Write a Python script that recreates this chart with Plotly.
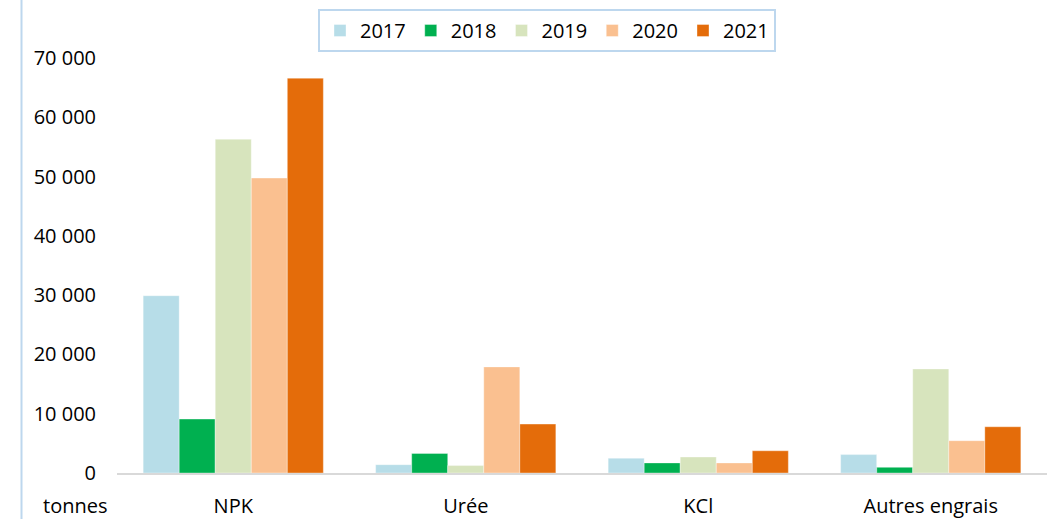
import plotly.graph_objects as go

categories = ["NPK", "Urée", "KCl", "Autres engrais"]
years = ["2017", "2018", "2019", "2020", "2021"]
v2017 = [29900, 1400, 2500, 3100]
v2018 = [9100, 3300, 1700, 950]
v2019 = [56300, 1250, 2700, 17550]
v2020 = [49750, 17900, 1700, 5450]
v2021 = [66600, 8250, 3750, 7800]
series = [v2017, v2018, v2019, v2020, v2021]
colors = ["#B7DDE8", "#00B050", "#D7E4BD", "#FAC090", "#E46C0A"]
tick_vals = [0, 10000, 20000, 30000, 40000, 50000, 60000, 70000]
tick_text = ["0", "10 000", "20 000", "30 000", "40 000", "50 000", "60 000", "70 000"]

W, H = 1061, 519
L, R, T, B = 117, 14, 58, 46
FS = 20

fig = go.Figure()
for y, vals, c in zip(years, series, colors):
    fig.add_trace(go.Bar(name=y, x=categories, y=vals,
                         marker=dict(color=c, line=dict(color="rgba(255,255,255,0.6)", width=0.6))))

pw = W - L - R
ph = H - T - B
fig.update_layout(
    width=W, height=H,
    margin=dict(l=L, r=R, t=T, b=B, autoexpand=False),
    paper_bgcolor="white", plot_bgcolor="white",
    barmode="group", bargap=0.225, bargroupgap=0,
    font=dict(family="Open Sans, Lato, sans-serif", size=FS, color="#000000"),
    legend=dict(orientation="h", x=(318 - L) / pw, xanchor="left", y=1 + (58 - 9) / ph, yanchor="top",
                bordercolor="#BDD7EE", borderwidth=2, bgcolor="white",
                font=dict(size=FS), itemwidth=30),
    xaxis=dict(showgrid=False, showline=True, linecolor="#D9D9D9", linewidth=2, ticks="",
               tickfont=dict(size=FS), ticklabelstandoff=14),
    yaxis=dict(range=[0, 70000], tickvals=tick_vals, ticktext=tick_text, showgrid=False,
               zeroline=False, showline=False, ticks="", tickfont=dict(size=FS),
               ticklabelstandoff=20),
    showlegend=True,
)
fig.add_shape(type="line", xref="paper", yref="paper",
              x0=(21.5 - L) / pw, x1=(21.5 - L) / pw, y0=-2, y1=2,
              line=dict(color="#BDD7EE", width=2))
fig.add_annotation(text="tonnes", xref="paper", yref="paper", x=(75 - L) / pw, y=-(521 - 473) / ph,
                   xanchor="center", yanchor="bottom", showarrow=False, font=dict(size=FS))
fig.write_html("out.html", config={"displayModeBar": False},
               post_script="document.body.style.margin='0';document.body.style.overflow='hidden';")
